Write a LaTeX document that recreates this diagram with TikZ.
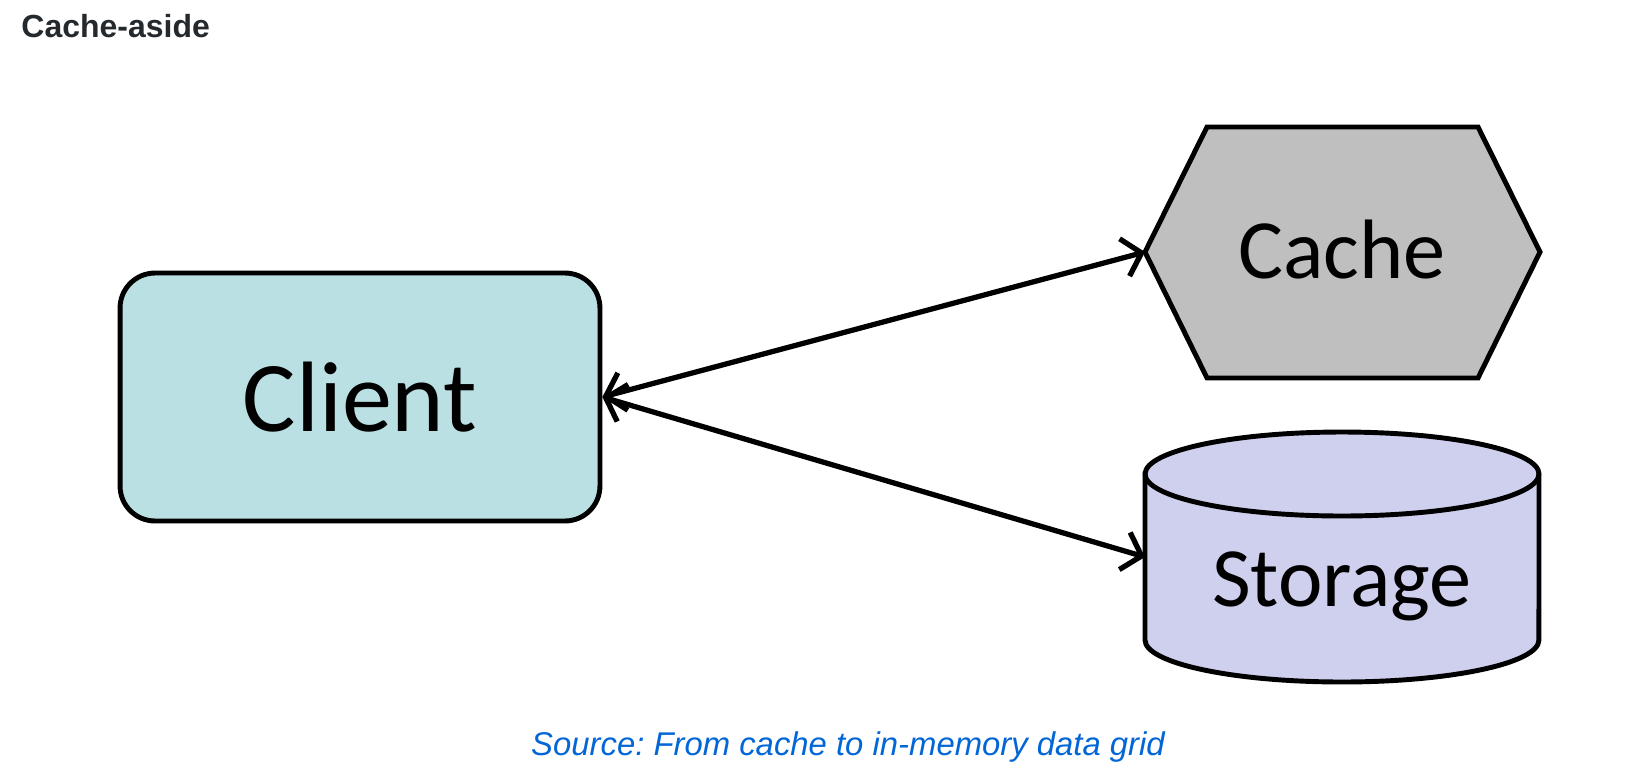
\documentclass[tikz,border=0pt]{standalone}
\usepackage{fontspec}
\setmainfont{Liberation Sans}
\newfontfamily\boxfont{Carlito}
\usetikzlibrary{arrows.meta}
\frenchspacing
\definecolor{clientfill}{HTML}{BBE0E3}
\definecolor{cachefill}{HTML}{BFBFBF}
\definecolor{storefill}{HTML}{CFCFEE}
\definecolor{titlegray}{HTML}{24292E}
\definecolor{linkblue}{HTML}{0366D6}
\tikzset{
every picture/.style={
line width=2.8pt
},
boxtext/.style={font=\boxfont\fontsize{48}{52}\selectfont},
link/.style={<->, line width=3pt, >={Straight Barb[length=10pt,width=22pt]}}
}
\begin{document}
\begin{tikzpicture}[x=0.02cm, y=-0.02cm]
      \useasboundingbox (0,0) rectangle (1632,782);
      \node [anchor=west, inner sep=0pt, text=titlegray, font=\bfseries\fontsize{18.2}{22}\selectfont] (title) at (19,26) {Cache-aside};
      \node [draw, fill=clientfill, rounded corners=0.7cm, minimum width=9.6cm,
        minimum height=4.96cm, font=\boxfont\fontsize{57}{60}\selectfont] (client) at (360,397) {Client};
      % cache: a stretched hexagon
      \draw [fill=cachefill] (1145,252) -- (1207,127) -- (1478,127) -- (1540,252)
        -- (1478,378) -- (1207,378) -- cycle;
      \node [boxtext] (cache) at (1342,250) {Cache};
      % storage: a cylinder
      \draw [fill=storefill] (1145,474) -- (1145,640)
        arc [start angle=180, end angle=360, x radius=3.94cm, y radius=0.84cm]
        -- (1539,474)
        arc [start angle=0, end angle=180, x radius=3.94cm, y radius=0.84cm] -- cycle;
      \draw (1145,474) arc [start angle=180, end angle=360, x radius=3.94cm, y radius=0.84cm];
      \node [boxtext] (storage) at (1342,586) {Storage};
      \coordinate (cacheL) at (1145,252);
      \coordinate (storeL) at (1145,557);
      \draw [link] (client.east) -- (cacheL);
      \draw [link] (client.east) -- (storeL);
      \node [text=linkblue, font=\itshape\fontsize{18.7}{22}\selectfont] (source) at (848,747)
        {Source: From cache to in-memory data grid};
\end{tikzpicture}
\end{document}
